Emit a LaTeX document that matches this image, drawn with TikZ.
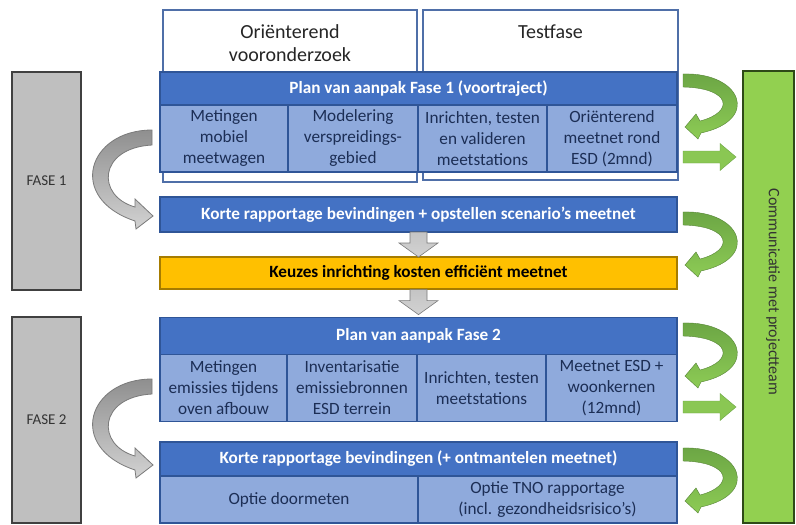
\documentclass[tikz,border=0pt]{standalone}
\usepackage{fontspec}
\setmainfont{Carlito}
\definecolor{hdrblue}{HTML}{4472C4}
\definecolor{cellblue}{HTML}{8FAADC}
\definecolor{edgeblue}{HTML}{2F5597}
\definecolor{topedge}{HTML}{4F6FA8}
\definecolor{txtnavy}{HTML}{1C2E55}
\definecolor{ylw}{HTML}{FFC000}
\definecolor{ylwedge}{HTML}{A67C00}
\definecolor{fasegrey}{HTML}{BFBFBF}
\definecolor{faseedge}{HTML}{404040}
\definecolor{greenbox}{HTML}{92D050}
\definecolor{greenedge}{HTML}{2E4A17}
\definecolor{gdark}{HTML}{6BA544}
\definecolor{glight}{HTML}{8DCB55}
\definecolor{gadark}{HTML}{8F8F8F}
\definecolor{galight}{HTML}{D2D2D2}
\definecolor{gaedge}{HTML}{7A7A7A}
\begin{document}
\begin{tikzpicture}[x=1pt,y=-1pt,
  box/.style={draw=edgeblue, line width=1.2pt, inner sep=0pt, outer sep=0pt},
  hdr/.style={box, fill=hdrblue, text=white, font=\fontsize{17.2}{20}\selectfont\bfseries},
  cell/.style={box, fill=cellblue, text=txtnavy, align=center, font=\fontsize{17.2}{21}\selectfont},
  topbox/.style={draw=topedge, line width=1.5pt, fill=white, inner sep=0pt},
  toptext/.style={align=center, text=black!85, font=\fontsize{20}{23}\selectfont, inner sep=0pt},
  ylwbox/.style={draw=ylwedge, line width=1.2pt, fill=ylw, inner sep=0pt, text=black, font=\fontsize{17.2}{20}\selectfont\bfseries},
  fasebox/.style={draw=faseedge, line width=1.5pt, fill=fasegrey, inner sep=0pt, font=\fontsize{15}{18}\selectfont, text=black!80},
  commbox/.style={draw=greenedge, line width=1.5pt, fill=greenbox, inner sep=0pt},
  greycurve/.pic={\path[top color=gadark, bottom color=galight, draw=gaedge, line width=0.8pt]
     (0,0) .. controls (-64,0) and (-86,68) .. (-17,91) -- (-16,99) -- (1,86) -- (-17,69) -- (-17,77)
     .. controls (-56,66) and (-54,18) .. (0,15) -- cycle;},
  greencurve/.pic={\path[top color=gdark, bottom color=glight, draw=gdark!80!black, line width=0.4pt]
     (0,0) .. controls (58,-2) and (78,46) .. (18,59) -- (15,65) -- (2,53) -- (13,40) -- (17,47)
     .. controls (52,38) and (48,14) .. (0,13) -- cycle;},
  greenstraight/.pic={\path[fill=glight!90!gdark, draw=gdark, line width=0.4pt]
     (0,-6) -- (37,-6) -- (37,-13.5) -- (53,0) -- (37,13.5) -- (37,6) -- (0,6) -- cycle;},
  greydown/.pic={\path[top color=galight!80!gadark, bottom color=galight, draw=gaedge, line width=0.6pt]
     (-8.5,0) -- (8.5,0) -- (8.5,11) -- (19.5,11) -- (0,25) -- (-19.5,11) -- (-8.5,11) -- cycle;}
]
\fill[white] (0,0) rectangle (796,525);
\useasboundingbox (0,0) rectangle (796,525);

% top white boxes
\node[topbox, minimum width=254, minimum height=172] (orbox) at (290,96) {};
\node[toptext] (ortext) at (290,43) {Oriënterend\\vooronderzoek};
\node[topbox, minimum width=255, minimum height=170] (tfbox) at (550.5,95) {};
\node[toptext] (tftext) at (550.5,32) {Testfase};

% phase boxes left
\node[fasebox, minimum width=69, minimum height=218] (f1) at (46.5,181) {FASE 1};
\node[fasebox, minimum width=69, minimum height=206] (f2) at (46.5,420) {FASE 2};

% communication box
\node[commbox, minimum width=51, minimum height=452] (comm) at (768.5,297) {};
\node[rotate=-90, inner sep=0pt, text=black!80, font=\fontsize{16}{19}\selectfont] (commtext) at (773,292) {Communicatie met projectteam};

% Fase 1 plan
\node[hdr, minimum width=517, minimum height=33] (h1) at (418.5,88.5) {Plan van aanpak Fase 1 (voortraject)};
\node[cell, minimum width=128, minimum height=67] (c11) at (224,138.5) {Metingen\\mobiel\\meetwagen};
\node[cell, minimum width=130, minimum height=67] (c12) at (353,138.5) {Modelering\\verspreidings-\\gebied};
\node[cell, minimum width=129, minimum height=67] (c13) at (482.5,138.5) {Inrichten, testen\\en valideren\\meetstations};
\node[cell, minimum width=130, minimum height=67] (c14) at (612,138.5) {Oriënterend\\meetnet rond\\ESD (2mnd)};

% Korte rapportage 1
\node[hdr, minimum width=517, minimum height=35] (k1) at (418.5,214.5) {Korte rapportage bevindingen + opstellen scenario’s meetnet};

% keuzes
\node[ylwbox, minimum width=517, minimum height=32] (kz) at (418.5,273) {Keuzes inrichting kosten efficiënt meetnet};

% Fase 2 plan
\node[hdr, minimum width=517, minimum height=37] (h2) at (418.5,336) {Plan van aanpak Fase 2};
\node[cell, minimum width=127, minimum height=67] (c21) at (223.5,388) {Metingen\\emissies tijdens\\oven afbouw};
\node[cell, minimum width=130, minimum height=67] (c22) at (352,388) {Inventarisatie\\emissiebronnen\\ESD terrein};
\node[cell, minimum width=129, minimum height=67] (c23) at (481.5,388) {Inrichten, testen\\meetstations};
\node[cell, minimum width=131, minimum height=67] (c24) at (611.5,388) {Meetnet ESD +\\woonkernen\\(12mnd)};

% Korte rapportage 2
\node[hdr, minimum width=517, minimum height=34] (k2) at (418.5,459) {Korte rapportage bevindingen (+ ontmantelen meetnet)};
\node[cell, minimum width=258, minimum height=47] (c31) at (289,499.5) {Optie doormeten};
\node[cell, minimum width=259, minimum height=47] (c32) at (547.5,499.5) {Optie TNO rapportage\\(incl. gezondheidsrisico’s)};

% grey down arrows
\pic at (k1.south) {greydown};
\pic at (kz.south) {greydown};

% grey curved arrows
\pic at (152,130) {greycurve};
\pic at (152,379) {greycurve};

% green curved arrows
\pic at (683,74) {greencurve};
\pic at (683,212) {greencurve};
\pic at (683,323) {greencurve};
\pic at (683,448) {greencurve};

% green straight arrows
\pic at (683,157) {greenstraight};
\pic at (683,407) {greenstraight};
\end{tikzpicture}
\end{document}
